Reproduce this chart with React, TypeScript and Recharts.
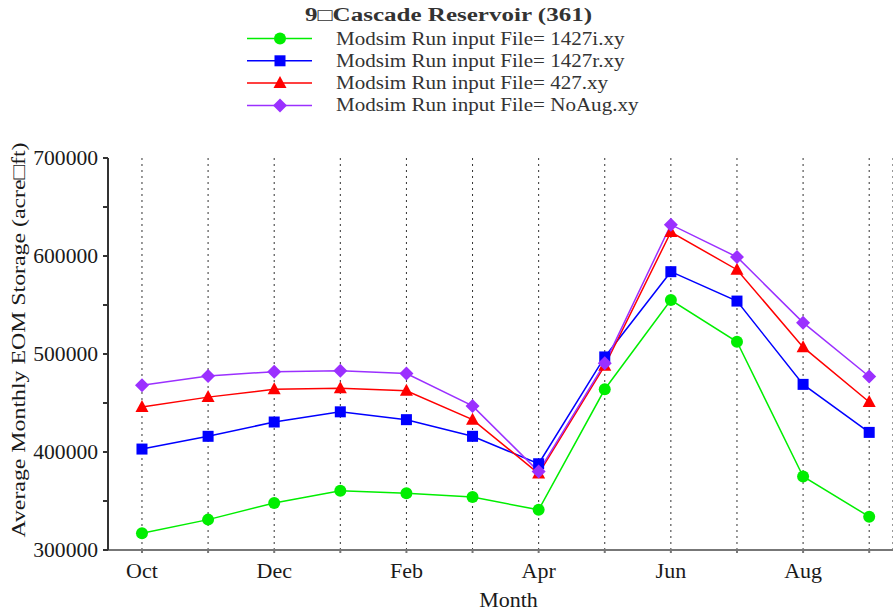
import React from 'react';
import { LineChart, Line, XAxis, YAxis, CartesianGrid } from 'recharts';

const months = ['Oct', 'Nov', 'Dec', 'Jan', 'Feb', 'Mar', 'Apr', 'May', 'Jun', 'Jul', 'Aug', 'Sep'];
const labeledMonths = ['Oct', 'Dec', 'Feb', 'Apr', 'Jun', 'Aug'];
const yTicks = [300000, 350000, 400000, 450000, 500000, 550000, 600000, 650000, 700000];

const run1427i = [317000, 331000, 348000, 360500, 358000, 354000, 341000, 464000, 555000, 512500, 375000, 334000];
const run1427r = [403000, 416000, 430600, 441000, 433000, 416000, 388000, 497000, 584000, 554000, 469000, 420000];
const run427 = [446000, 456000, 464000, 465000, 462500, 433000, 378000, 488000, 624500, 586000, 507000, 451000];
const runNoAug = [468000, 477500, 482000, 483000, 480000, 447000, 380000, 490500, 632000, 599000, 532000, 477000];

const FONT = '"Liberation Serif", "Times New Roman", serif';
const TEXT = '#1a1a1a';

const series = [
  { key: 'i1427', name: 'Modsim Run input File= 1427i.xy', color: '#00ee00', shape: 'circle' },
  { key: 'r1427', name: 'Modsim Run input File= 1427r.xy', color: '#0000ff', shape: 'square' },
  { key: 'r427', name: 'Modsim Run input File= 427.xy', color: '#ff0000', shape: 'triangle' },
  { key: 'noaug', name: 'Modsim Run input File= NoAug.xy', color: '#9b30ff', shape: 'diamond' },
];

const data = months.map((m, i) => ({
  idx: i,
  month: m,
  i1427: run1427i[i],
  r1427: run1427r[i],
  r427: run427[i],
  noaug: runNoAug[i],
}));

function markerShape(shape: string, cx: number, cy: number, color: string, key?: any) {
  if (shape === 'circle') return <circle key={key} cx={cx} cy={cy} r={6} fill={color} />;
  if (shape === 'square') return <rect key={key} x={cx - 5.5} y={cy - 5.5} width={11} height={11} fill={color} />;
  if (shape === 'triangle')
    return <polygon key={key} points={`${cx},${cy - 7} ${cx + 6.5},${cy + 5} ${cx - 6.5},${cy + 5}`} fill={color} />;
  return <polygon key={key} points={`${cx},${cy - 7} ${cx + 7},${cy} ${cx},${cy + 7} ${cx - 7},${cy}`} fill={color} />;
}

function makeDot(shape: string, color: string) {
  return (props: any) => {
    const { cx, cy, index } = props;
    if (cx == null || cy == null) return <g key={index} />;
    return markerShape(shape, cx, cy, color, index);
  };
}

// reference text is a little wider than Liberation Serif, so stretch it sideways
function MonthTick(props: any) {
  const { x, y, payload } = props;
  const m = months[payload.value];
  if (!labeledMonths.includes(m)) return <g />;
  return (
    <text
      transform={`translate(${x},${y + 23}) scale(1.1,1)`}
      textAnchor="middle"
      fontSize={20}
      fontFamily={FONT}
      fill={TEXT}
    >
      {m}
    </text>
  );
}

function StorageTick(props: any) {
  const { x, y, payload } = props;
  if (payload.value % 100000 !== 0) return <g />;
  return (
    <text
      transform={`translate(${x - 3},${y + 7}) scale(1.08,1)`}
      textAnchor="end"
      fontSize={20}
      fontFamily={FONT}
      fill={TEXT}
    >
      {String(payload.value)}
    </text>
  );
}

export default function App() {
  return (
    <div style={{ position: 'relative', width: 893, height: 614, background: '#fff', fontFamily: FONT }}>
      <style>{'body{margin:0}'}</style>
      <svg style={{ position: 'absolute', top: 0, left: 0 }} width={893} height={125}>
        <text
          x={305}
          y={21}
          fontSize={18}
          fontWeight="bold"
          fontFamily={FONT}
          fill="#333"
          textLength={287}
          lengthAdjust="spacingAndGlyphs"
        >
          9□Cascade Reservoir (361)
        </text>
        {series.map((s, i) => {
          const y = 38.5 + i * 22.3;
          return (
            <g key={s.key}>
              <line x1={247} x2={312} y1={y} y2={y} stroke={s.color} strokeWidth={1.5} />
              {markerShape(s.shape, 280, y, s.color)}
              <text
                transform={`translate(336,${y + 6}) scale(1.17,1)`}
                fontSize={18}
                fontFamily={FONT}
                fill="#333"
              >
                {s.name}
              </text>
            </g>
          );
        })}
      </svg>
      <div style={{ position: 'absolute', top: 0, left: 0 }}>
        <LineChart width={893} height={614} data={data} margin={{ top: 158, right: 0, bottom: 0, left: 0 }}>
          <CartesianGrid vertical horizontal={false} stroke="#333" strokeDasharray="2 4" />
          <XAxis
            dataKey="idx"
            type="number"
            domain={[-0.514, 11.36]}
            allowDataOverflow
            ticks={months.map((_, i) => i)}
            interval={0}
            height={64}
            tick={<MonthTick />}
            tickSize={3}
            tickMargin={2}
            stroke="#777"
            strokeWidth={2}
            label={(p: any) => {
              const vb = p.viewBox;
              return (
                <text
                  transform={`translate(${vb.x + vb.width / 2 + 8},607) scale(1.1,1)`}
                  textAnchor="middle"
                  fontSize={20}
                  fontFamily={FONT}
                  fill={TEXT}
                >
                  Month
                </text>
              );
            }}
          />
          <YAxis
            type="number"
            domain={[300000, 700000]}
            ticks={yTicks}
            interval={0}
            width={108}
            tick={<StorageTick />}
            tickSize={5}
            stroke="#333"
            strokeWidth={2}
            label={() => (
              <text
                transform="translate(25,340) rotate(-90)"
                textAnchor="middle"
                fontSize={19}
                fontFamily={FONT}
                fill={TEXT}
                textLength={395}
                lengthAdjust="spacingAndGlyphs"
              >
                Average Monthly EOM Storage (acre□ft)
              </text>
            )}
          />
          {series.map((s) => (
            <Line
              key={s.key}
              dataKey={s.key}
              name={s.name}
              stroke={s.color}
              strokeWidth={1.5}
              dot={makeDot(s.shape, s.color)}
              activeDot={false}
              isAnimationActive={false}
            />
          ))}
        </LineChart>
      </div>
    </div>
  );
}
